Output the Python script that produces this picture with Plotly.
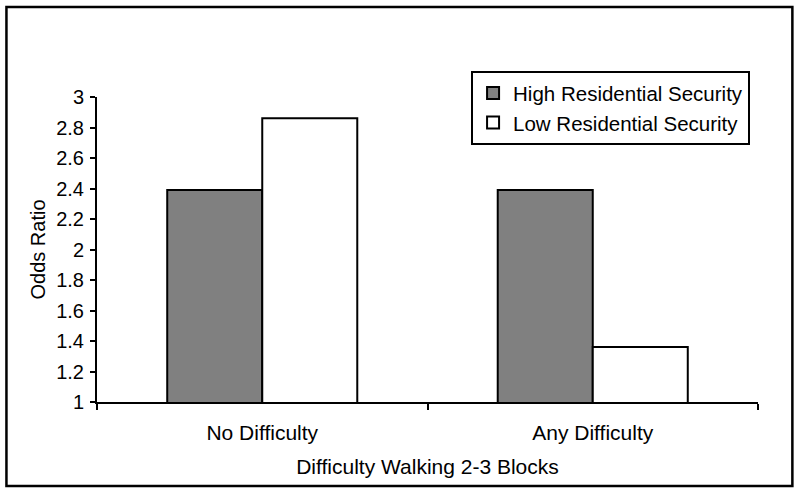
import plotly.graph_objects as go

categories = ["No Difficulty", "Any Difficulty"]
high_security = [2.39, 2.39]
low_security = [2.86, 1.36]
series_names = ["High Residential Security", "Low Residential Security"]
y_ticks = [1, 1.2, 1.4, 1.6, 1.8, 2, 2.2, 2.4, 2.6, 2.8, 3]

FONT = "Liberation Sans, Arial, sans-serif"

fig = go.Figure()
fig.add_trace(go.Bar(x=categories, y=high_security, name=series_names[0],
                     marker=dict(color="#808080", line=dict(color="black", width=2))))
fig.add_trace(go.Bar(x=categories, y=low_security, name=series_names[1],
                     marker=dict(color="white", line=dict(color="black", width=2))))

fig.update_layout(
    width=800, height=494,
    margin=dict(l=97, r=42, t=97, b=92),
    paper_bgcolor="white", plot_bgcolor="white",
    font=dict(family=FONT, size=20, color="black"),
    barmode="group", bargap=0.425, bargroupgap=0,
    showlegend=True,
    legend=dict(x=0.988, xanchor="right", y=1.085, yanchor="top",
                bordercolor="black", borderwidth=2, bgcolor="white",
                font=dict(size=20.5), tracegroupgap=0, itemwidth=30),
    xaxis=dict(showline=True, linecolor="black", linewidth=2,
               ticks="outside", tickson="boundaries", ticklen=6, tickwidth=2,
               tickcolor="black", showgrid=False, tickfont=dict(size=21),
               ticklabelstandoff=11,
               title=dict(text="Difficulty Walking 2-3 Blocks", standoff=16,
                          font=dict(size=21))),
    yaxis=dict(range=[1, 3], tickvals=y_ticks, showline=True, linecolor="black",
               linewidth=2, ticks="outside", ticklen=5, tickwidth=2,
               tickcolor="black", showgrid=False, zeroline=False,
               tickfont=dict(size=20), ticklabelstandoff=2,
               title=dict(text="Odds Ratio", standoff=5, font=dict(size=20))),
    shapes=[dict(type="rect", xref="paper", yref="paper",
                 x0=-0.137, x1=1.052, y0=-0.275, y1=1.295,
                 line=dict(color="black", width=2.5), fillcolor="rgba(0,0,0,0)")],
)

fig.write_html("out.html", config={"displayModeBar": False},
               post_script="document.body.style.margin='0';")
